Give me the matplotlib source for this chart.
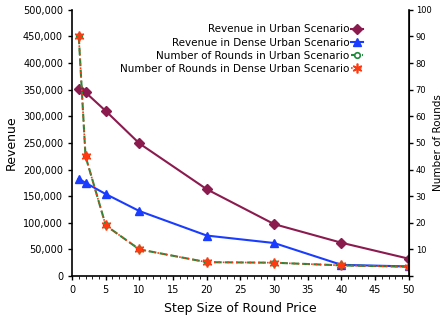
import matplotlib.pyplot as plt
from matplotlib.ticker import FuncFormatter, MultipleLocator

# step size of round price
step = [1, 2, 5, 10, 20, 30, 40, 50]

# revenue values
rev_urban = [352000, 345000, 310000, 249000, 163000, 97500, 62500, 32500]
rev_dense = [183000, 175000, 154000, 122000, 76000, 62000, 21000, 18000]

# number of rounds
rounds_urban = [90, 45, 19, 10, 5.2, 5, 4, 3.5]
rounds_dense = [90, 45, 19, 10, 5.2, 5, 4, 3.5]

plt.rcParams['font.family'] = ['DejaVu Sans']

fig = plt.figure(figsize=(4.42, 3.18), dpi=100)
ax = fig.add_axes([0.163, 0.132, 0.762, 0.837])
ax2 = ax.twinx()

l1, = ax.plot(step, rev_urban, color='#8b1a4e', lw=1.5, marker='D', ms=5,
              label='Revenue in Urban Scenario')
l2, = ax.plot(step, rev_dense, color='#1a3cff', lw=1.5, marker='^', ms=6,
              label='Revenue in Dense Urban Scenario')
l3, = ax2.plot(step, rounds_urban, color='#1f8a3c', lw=1.5, ls='--', marker='o',
               ms=4, mfc='white', mew=1.2, label='Number of Rounds in Urban Scenario')
l4, = ax2.plot(step, rounds_dense, color='#ff3a10', lw=1.2, ls=':', marker=(6, 2, 0),
               ms=7, mew=1.2, label='Number of Rounds in Dense Urban Scenario')

ax.set_xlim(0, 50)
ax.set_ylim(0, 500000)
ax2.set_ylim(0, 100)

ax.xaxis.set_major_locator(MultipleLocator(5))
ax.xaxis.set_minor_locator(MultipleLocator(1))
ax.yaxis.set_major_locator(MultipleLocator(50000))
ax.yaxis.set_major_formatter(FuncFormatter(lambda v, p: f'{int(v):,}'))
ax2.yaxis.set_major_locator(MultipleLocator(10))
ax2.yaxis.set_major_formatter(FuncFormatter(lambda v, p: '' if v == 0 else f'{int(v)}'))

for a in (ax, ax2):
    a.spines['top'].set_visible(False)
ax.tick_params(labelsize=7, length=3, width=1)
ax.tick_params(which='minor', length=2)
ax2.tick_params(labelsize=6, length=3, width=1, pad=2)
ax.spines['left'].set_linewidth(1.2)
ax.spines['bottom'].set_linewidth(1.2)
ax2.spines['right'].set_linewidth(1.2)
ax2.spines['left'].set_visible(False)
ax2.spines['bottom'].set_visible(False)

ax.set_xlabel('Step Size of Round Price', fontsize=9, labelpad=5)
ax.set_ylabel('Revenue', fontsize=9, labelpad=4)
ax2.set_ylabel('Number of Rounds', fontsize=7.5, labelpad=1)

ax.legend(handles=[l1, l2, l3, l4], loc='upper right', bbox_to_anchor=(0.88, 0.965),
          frameon=False, markerfirst=False, fontsize=7.5, handlelength=1.2,
          handletextpad=0.1, labelspacing=0.3, borderpad=0)

fig.savefig('out.png', dpi=100)
